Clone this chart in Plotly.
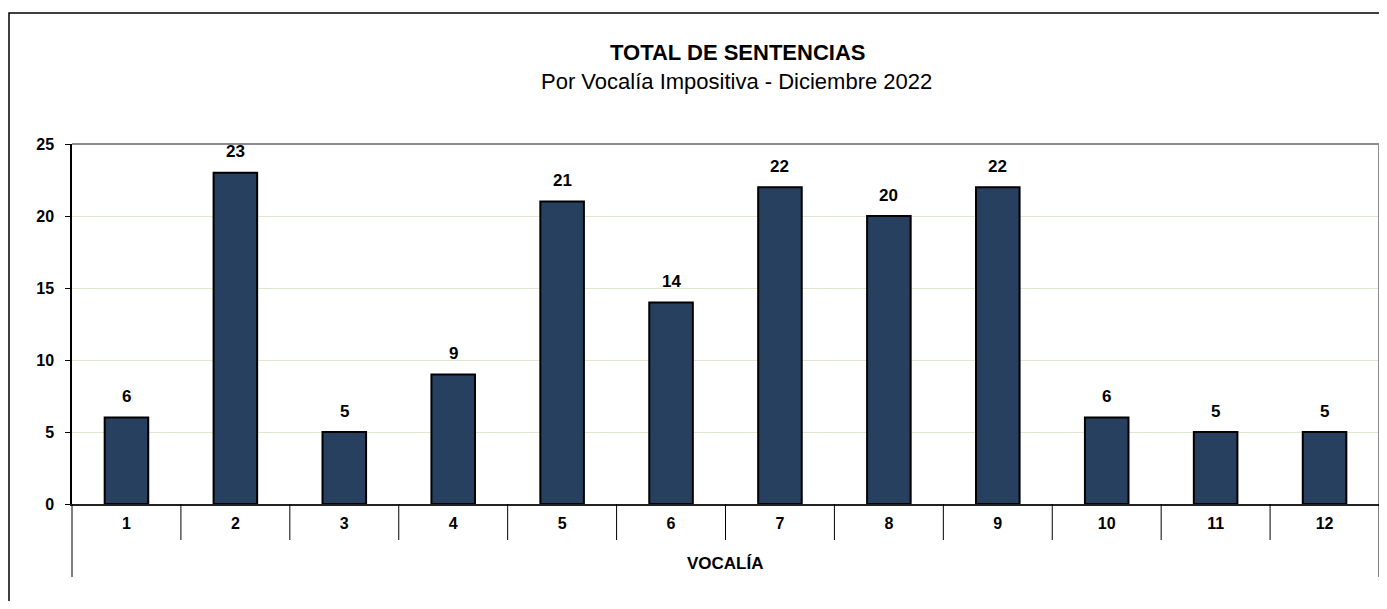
import plotly.graph_objects as go

categories = [1, 2, 3, 4, 5, 6, 7, 8, 9, 10, 11, 12]
tick_labels = ["1", "2", "3", "4", "5", "6", "7", "8", "9", "10", "11", "12"]
sentencias = [6, 23, 5, 9, 21, 14, 22, 20, 22, 6, 5, 5]
y_ticks = [0, 5, 10, 15, 20, 25]

FONT = "Liberation Sans, Arial, sans-serif"
OFF = 8  # default body margin of the html page
W, H = 1373, 593
L, R, T = 64, 2, 136
ph = 360
B = H - T - ph
pw = W - L - R
AXIS_Y = OFF + T + ph  # page y of the zero line

fig = go.Figure()
fig.add_trace(go.Bar(
    x=categories, y=sentencias, width=0.4,
    marker=dict(color="#27405F", line=dict(color="#000000", width=2)),
    hoverinfo="x+y",
))

annotations = []
for c, v in zip(categories, sentencias):
    annotations.append(dict(x=c, y=v, xref="x", yref="y", text=f"<b>{v}</b>",
                            showarrow=False, yanchor="middle", yshift=21,
                            font=dict(family=FONT, size=17, color="#000000")))
annotations.append(dict(x=(738 - OFF - L) / pw, y=(AXIS_Y - 52) / ph,
                        xref="paper", yref="paper", text="<b>TOTAL DE SENTENCIAS</b>",
                        showarrow=False, xanchor="center", yanchor="middle",
                        font=dict(family=FONT, size=22, color="#000000")))
annotations.append(dict(x=(736 - OFF - L) / pw, y=(AXIS_Y - 82) / ph,
                        xref="paper", yref="paper", text="Por Vocalía Impositiva - Diciembre 2022",
                        showarrow=False, xanchor="center", yanchor="middle",
                        font=dict(family=FONT, size=22, color="#000000")))
annotations.append(dict(x=0.5, y=-59 / ph, xref="paper", yref="paper", text="<b>VOCALÍA</b>",
                        showarrow=False, xanchor="center", yanchor="middle",
                        font=dict(family=FONT, size=17, color="#000000")))

shapes = []
n = len(categories)
for i in range(1, n):
    b = categories[i - 1] + 0.5
    shapes.append(dict(type="line", xref="x", yref="paper", x0=b, x1=b,
                       y0=0, y1=-36 / ph, line=dict(color="#000000", width=1)))
for px in (0, 1):
    shapes.append(dict(type="line", xref="paper", yref="paper", x0=px, x1=px,
                       y0=0, y1=-73 / ph, line=dict(color="#000000", width=1)))
shapes.append(dict(type="line", xref="paper", yref="paper", x0=0, x1=1, y0=1, y1=1,
                   line=dict(color="#8c8c8c", width=2)))
shapes.append(dict(type="line", xref="paper", yref="paper", x0=1, x1=1, y0=0, y1=1,
                   line=dict(color="#8c8c8c", width=2)))
shapes.append(dict(type="rect", xref="paper", yref="paper",
                   x0=(9 - OFF - L) / pw, x1=(W + 20 - L) / pw,
                   y0=-(B + 20) / ph, y1=(AXIS_Y - 13) / ph,
                   line=dict(color="#000000", width=1.5), layer="above"))

fig.update_layout(
    width=W, height=H,
    margin=dict(l=L, r=R, t=T, b=B),
    paper_bgcolor="white", plot_bgcolor="white",
    showlegend=False,
    font=dict(family=FONT, color="#000000"),
    xaxis=dict(
        range=[categories[0] - 0.5, categories[-1] + 0.5],
        tickvals=categories, ticktext=[f"<b>{t}</b>" for t in tick_labels],
        ticks="", showgrid=False, zeroline=False,
        showline=True, linecolor="#222222", linewidth=1.5,
        tickfont=dict(family=FONT, size=16, color="#000000"),
        ticklabelstandoff=4,
    ),
    yaxis=dict(
        range=[0, 25], tickvals=y_ticks,
        ticktext=[f"<b>{v}</b>" for v in y_ticks],
        ticks="outside", ticklen=5, tickcolor="#000000", tickwidth=1,
        showline=True, linecolor="#000000", linewidth=1.5,
        showgrid=True, gridcolor="#dde8cf", gridwidth=1,
        zeroline=False,
        tickfont=dict(family=FONT, size=16, color="#000000"),
        ticklabelstandoff=8,
    ),
    annotations=annotations,
    shapes=shapes,
)

fig.write_html("out.html")
